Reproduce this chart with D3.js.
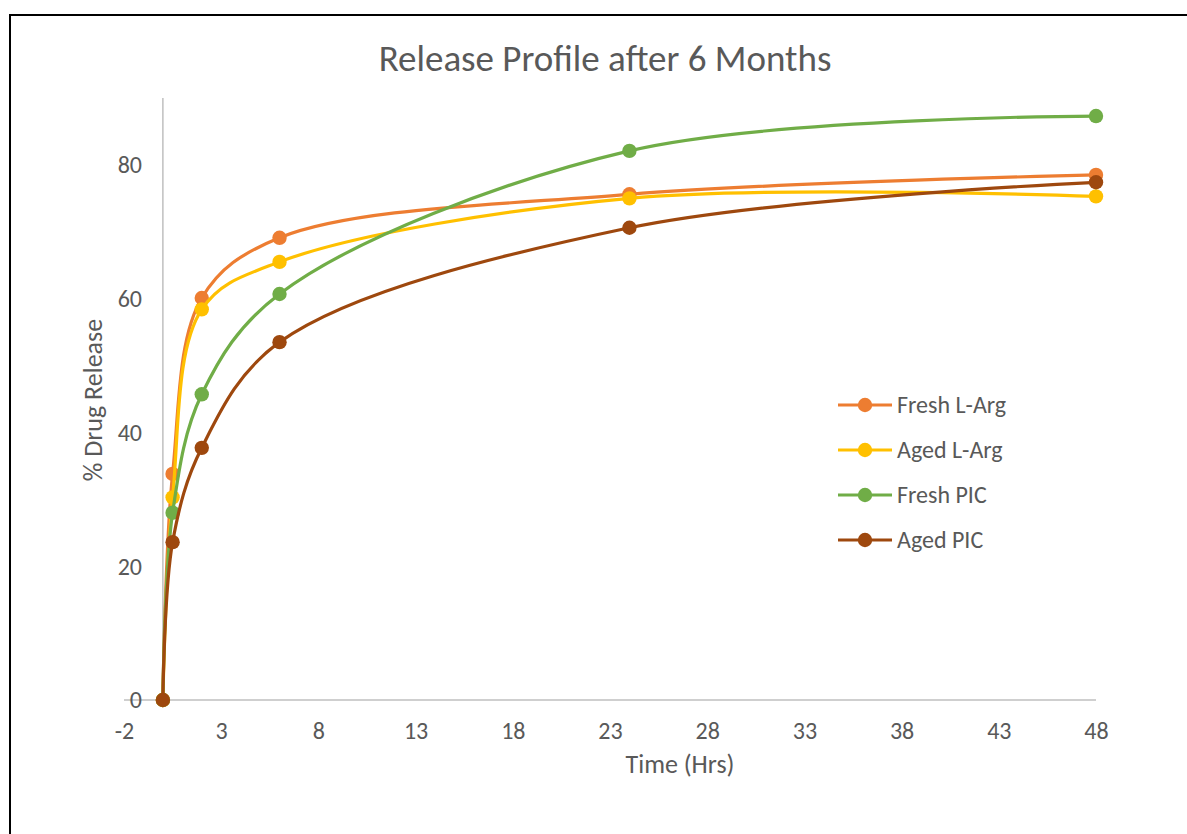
<!DOCTYPE html>
<html>
<head>
<meta charset="utf-8">
<script src="https://cdn.jsdelivr.net/npm/d3@7"></script>
<style>
  html, body { margin: 0; padding: 0; background: #fff; }
  svg text { font-family: Carlito, Lato, "Open Sans", sans-serif; fill: #595959; }
</style>
</head>
<body>
<svg id="chart" width="1187" height="834"></svg>
<script>
// Sampling times (hours)
const times = [0, 0.5, 2, 6, 24, 48];

// Cumulative % drug release per formulation
const freshLArg = [0, 33.8, 60.1, 69.1, 75.6, 78.5];
const agedLArg  = [0, 30.3, 58.4, 65.5, 75.0, 75.3];
const freshPIC  = [0, 28.0, 45.7, 60.7, 82.1, 87.3];
const agedPIC   = [0, 23.6, 37.7, 53.5, 70.6, 77.4];

const seriesNames  = ["Fresh L-Arg", "Aged L-Arg", "Fresh PIC", "Aged PIC"];
const seriesValues = [freshLArg, agedLArg, freshPIC, agedPIC];
const seriesColors = ["#ED7D31", "#FFC000", "#70AD47", "#9E480E"];

const xTicks = [-2, 3, 8, 13, 18, 23, 28, 33, 38, 43, 48];
const yTicks = [0, 20, 40, 60, 80];

const svg = d3.select("#chart");

// Chart frame
svg.append("path")
  .attr("d", "M10,834 L10,15 L1187,15")
  .attr("fill", "none")
  .attr("stroke", "#000")
  .attr("stroke-width", 2);

const x = d3.scaleLinear().domain([-2, 48]).range([124, 1096]);
const y = d3.scaleLinear().domain([0, 90]).range([700, 98]);

// Horizontal axis line at y = 0
svg.append("line")
  .attr("x1", x(-2)).attr("x2", x(48))
  .attr("y1", y(0)).attr("y2", y(0))
  .attr("stroke", "#BFBFBF").attr("stroke-width", 1.5);

// Vertical axis line crossing at x = 0
svg.append("line")
  .attr("x1", x(0)).attr("x2", x(0))
  .attr("y1", y(0)).attr("y2", y(90))
  .attr("stroke", "#BFBFBF").attr("stroke-width", 1.5);

// X tick labels (plain hyphen for negatives)
const xAxis = d3.axisBottom(x).tickValues(xTicks).tickSize(0).tickPadding(0)
  .tickFormat(d => String(d));
const gx = svg.append("g").attr("transform", `translate(0,${y(0)})`).call(xAxis);
gx.select(".domain").remove();
gx.selectAll("text")
  .attr("y", 39).attr("dy", null)
  .style("font-size", "24px").style("fill", "#595959")
  .style("font-family", "Carlito, Lato, sans-serif");

// Y tick labels
const yAxis = d3.axisLeft(y).tickValues(yTicks).tickSize(0).tickPadding(0)
  .tickFormat(d => String(d));
const gy = svg.append("g").attr("transform", `translate(142,0)`).call(yAxis);
gy.select(".domain").remove();
gy.selectAll("text")
  .attr("x", 0).attr("dy", "0.33em")
  .style("font-size", "24px").style("fill", "#595959")
  .style("font-family", "Carlito, Lato, sans-serif");

// Title and axis titles
svg.append("text")
  .attr("x", 605).attr("y", 71)
  .attr("text-anchor", "middle")
  .style("font-size", "37px")
  .text("Release Profile after 6 Months");

svg.append("text")
  .attr("x", 680).attr("y", 773)
  .attr("text-anchor", "middle")
  .style("font-size", "26px")
  .text("Time (Hrs)");

svg.append("text")
  .attr("transform", "translate(102,400) rotate(-90)")
  .attr("text-anchor", "middle")
  .style("font-size", "26px")
  .text("% Drug Release");

// Smoothed release curves with markers
const line = d3.line()
  .x(d => x(d[0]))
  .y(d => y(d[1]))
  .curve(d3.curveCatmullRom.alpha(0.5));

seriesValues.forEach((vals, i) => {
  const pts = times.map((t, j) => [t, vals[j]]);
  const g = svg.append("g");
  g.append("path")
    .datum(pts)
    .attr("d", line)
    .attr("fill", "none")
    .attr("stroke", seriesColors[i])
    .attr("stroke-width", 3.2)
    .attr("stroke-linecap", "round");
  g.selectAll("circle")
    .data(pts)
    .join("circle")
    .attr("cx", d => x(d[0]))
    .attr("cy", d => y(d[1]))
    .attr("r", 7.2)
    .attr("fill", seriesColors[i]);
});

// Legend
const legend = svg.append("g").attr("transform", "translate(838,405)");
seriesNames.forEach((name, i) => {
  const row = legend.append("g").attr("transform", `translate(0,${i * 45})`);
  row.append("line")
    .attr("x1", 0).attr("x2", 54)
    .attr("stroke", seriesColors[i]).attr("stroke-width", 3.2);
  row.append("circle")
    .attr("cx", 27).attr("r", 7.2)
    .attr("fill", seriesColors[i]);
  row.append("text")
    .attr("x", 59).attr("dy", "0.33em")
    .style("font-size", "24px")
    .text(name);
});
</script>
</body>
</html>
